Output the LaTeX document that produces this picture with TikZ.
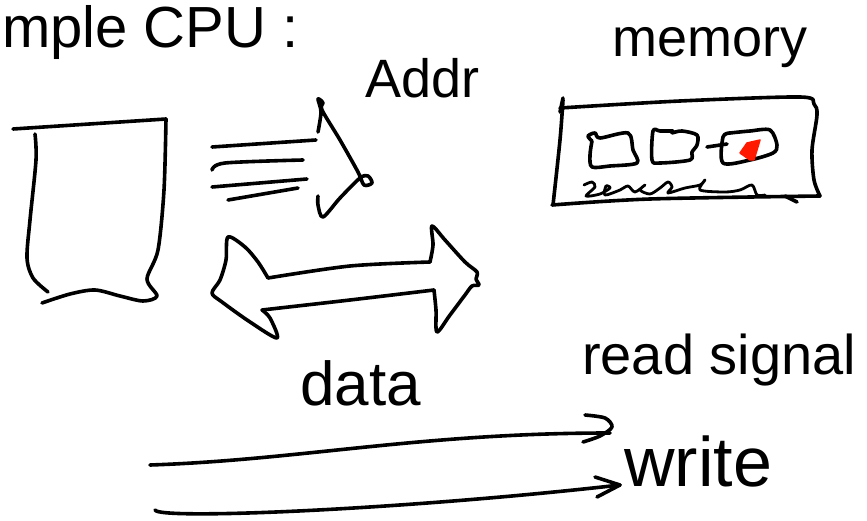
\documentclass[tikz,border=0pt]{standalone}
\usepackage{fontspec}
\setmainfont{Liberation Sans}
\begin{document}
\begin{tikzpicture}[x=1pt,y=-1pt,
  pen/.style={line width=3.6pt, line cap=round, line join=round},
  ink/.style={pen, fill=red!80!orange, draw=red!80!orange, line width=1.5pt},
  words/.style={inner sep=0pt, anchor=base west},
  fs/.style={words, font=\fontsize{#1}{#1}\selectfont}]
\useasboundingbox (0,0) rectangle (867,521);

% labels
\node[fs=58] (title) at (2,48) {mple CPU :};
\node[fs=54] (addr) at (365,98) {Addr};
\node[fs=54] (mem) at (612,57) {memory};
\node[fs=62] (data) at (300,405) {data};
\node[fs=56] (rsig) at (582,374) {read signal};
\node[fs=70] (wr) at (624,486) {write};

% CPU block
\draw[pen] (13,129) -- (166,119);
\draw[pen] plot[smooth] coordinates {(35,134) (36,160) (30,220) (27,258) (33,278) (48,292)};
\draw[pen] plot[smooth] coordinates {(166,119) (164,190) (158,250) (147,279) (157,296) (143,301) (120,296) (95,290) (70,294) (42,303)};

% address bus: speed lines and head
\draw[pen] (212,147) -- (316,140);
\draw[pen] plot[smooth] coordinates {(212,170) (225,163) (303,160)};
\draw[pen] (212,187) -- (307,179);
\draw[pen] (228,200) -- (298,188);
\draw[pen] plot[smooth] coordinates {(318,132) (321,112) (318,99) (323,103) (322,110) (340,140) (358,172) (364,185) (372,183) (368,176) (360,178) (340,198) (323,217) (318,205) (318,196)};

% data bus: double-headed arrow
\draw[pen] plot[smooth] coordinates {(268,278) (350,266) (430,262)};
\draw[pen] plot[smooth] coordinates {(430,262) (433,245) (432,226) (445,240) (465,262) (477,272) (476,279) (479,285) (472,286) (465,295) (450,315) (437,332) (436,310) (434,290)};
\draw[pen] plot[smooth] coordinates {(434,290) (350,300) (262,310)};
\draw[pen] plot[smooth] coordinates {(262,310) (270,318) (277,338) (250,322) (222,302) (212,293) (220,280) (226,260) (228,237) (245,247) (258,262) (268,278)};

% memory block
\draw[pen] (563,98) -- (560,112);
\draw[pen] plot[smooth] coordinates {(560,108) (680,101) (800,97) (814,104) (817,115) (812,150) (814,180) (820,196)};
\draw[pen] plot[smooth] coordinates {(563,100) (560,140) (553,205)};
\draw[pen] plot[smooth] coordinates {(552,205) (650,199) (820,196)};
\draw[pen] (785,196) -- (797,202);
% memory cells
\draw[pen] plot[smooth] coordinates {(592,141) (588,136) (595,133) (600,138) (628,133) (633,150) (637,163) (610,166) (592,167) (590,155) (592,141)};
\draw[pen] plot[smooth] coordinates {(673,131) (660,131) (653,131) (652,160) (660,163) (690,160) (692,152) (697,145) (697,135) (682,131) (672,133)};
\draw[pen] (707,147) -- (727,144);
\draw[pen] plot[smooth] coordinates {(730,133) (723,137) (723,163) (750,160) (773,153) (777,145) (770,130) (750,131) (730,133)};
\fill[ink] (740,153) -- (747,143) -- (760,140) -- (754,160) -- (750,160) -- cycle;
% addresses under the cells
\draw[pen, line width=2.8pt] plot[smooth] coordinates {(584,185) (592,182) (595,187) (586,196) (600,194) (610,188) (606,186) (605,195) (620,190) (628,186) (635,192) (645,185) (640,190) (650,194) (660,188) (668,182) (672,187) (668,193) (685,188) (700,185) (705,180) (700,190) (725,192) (740,190) (752,185) (757,195) (765,195)};

% read and write signals
\coordinate (rdS) at (150,465);
\coordinate (rdE) at (610,433);
\coordinate (wrS) at (155,510);
\coordinate (wrE) at (620,485);
\draw[pen] (rdS) .. controls (300,460) and (420,433) .. (rdE);
\draw[pen] plot[smooth] coordinates {(585,415) (605,418) (612,427) (600,436) (583,442)};
\draw[pen] (wrS) .. controls (158,520) and (400,510) .. (wrE);
\draw[pen] (595,477) -- (wrE) -- (597,497);
\end{tikzpicture}
\end{document}
